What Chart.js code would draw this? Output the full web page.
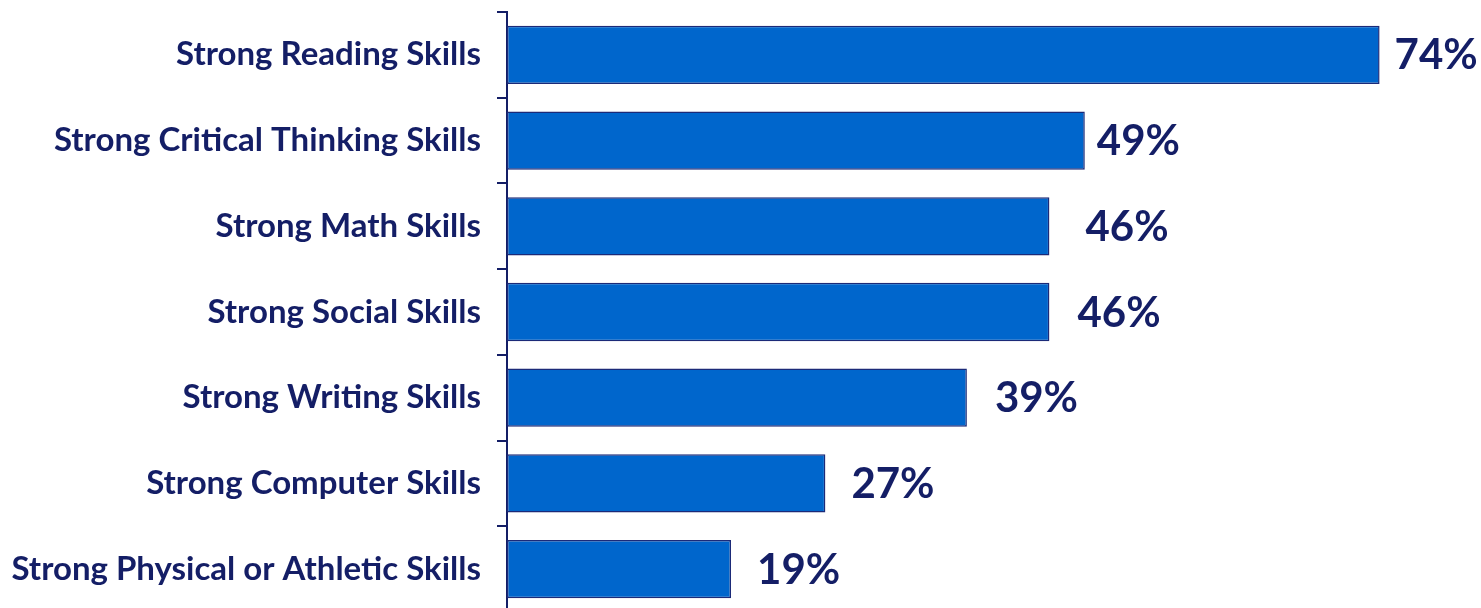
<!DOCTYPE html>
<html>
<head>
<meta charset="utf-8">
<script src="https://cdn.jsdelivr.net/npm/chart.js@4/dist/chart.umd.min.js"></script>
<style>
  html, body { margin: 0; padding: 0; background: #ffffff; overflow: hidden; }
  #wrap { position: relative; width: 1481px; height: 612px; }
  body { width: 1481px; height: 608px; }
</style>
</head>
<body>
<div id="wrap"><canvas id="chart" width="1481" height="612"></canvas></div>
<script>
// Share of respondents naming each skill
const skills = [
  'Strong Reading Skills',
  'Strong Critical Thinking Skills',
  'Strong Math Skills',
  'Strong Social Skills',
  'Strong Writing Skills',
  'Strong Computer Skills',
  'Strong Physical or Athletic Skills'
];
const percents = [74, 49, 46, 46, 39, 27, 19];
const valueLabels = ['74%', '49%', '46%', '46%', '39%', '27%', '19%'];

const NAVY = '#141E66';
const BAR_FILL = '#0066CC';
const BAR_EDGE = '#1B2A78';

// Gap between each bar end and its value label
const labelGaps = [15, 12, 36, 28, 28, 26, 26];

const valueLabelPlugin = {
  id: 'valueLabels',
  afterDatasetsDraw(chart) {
    const ctx = chart.ctx;
    const meta = chart.getDatasetMeta(0);
    ctx.save();
    ctx.fillStyle = NAVY;
    ctx.font = 'bold 42px Lato, "Open Sans", sans-serif';
    ctx.textAlign = 'left';
    ctx.textBaseline = 'middle';
    meta.data.forEach((bar, i) => {
      ctx.fillText(valueLabels[i], bar.x + labelGaps[i], bar.y + 1);
    });
    ctx.restore();
  }
};

new Chart(document.getElementById('chart'), {
  type: 'bar',
  data: {
    labels: skills,
    datasets: [{
      data: percents,
      backgroundColor: BAR_FILL,
      borderColor: BAR_EDGE,
      borderWidth: 1.5,
      borderSkipped: false,
      categoryPercentage: 1,
      barPercentage: 0.68
    }]
  },
  options: {
    indexAxis: 'y',
    responsive: false,
    animation: false,
    layout: { padding: { top: 12, right: 0, bottom: 0, left: 0 } },
    plugins: {
      legend: { display: false },
      tooltip: { enabled: false }
    },
    scales: {
      x: {
        display: false,
        min: 0,
        max: 82.6
      },
      y: {
        afterFit(scale) {
          scale.width = 507;
          scale.paddingTop = 0;
          scale.paddingBottom = 0;
        },
        border: { display: true, color: NAVY, width: 2 },
        grid: {
          offset: true,
          drawOnChartArea: false,
          drawTicks: true,
          tickLength: 10,
          color: NAVY,
          lineWidth: 2
        },
        ticks: {
          padding: 16,
          color: NAVY,
          font: { family: 'Lato, "Open Sans", sans-serif', size: 33, weight: 'bold' }
        }
      }
    }
  },
  plugins: [valueLabelPlugin]
});
</script>
</body>
</html>
